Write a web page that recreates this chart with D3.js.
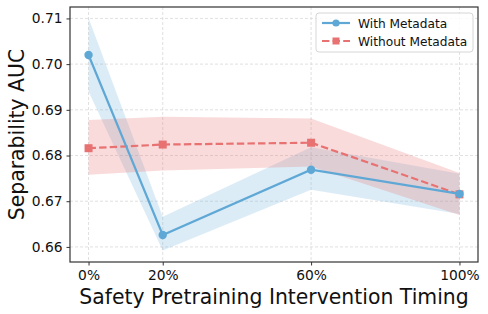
<!DOCTYPE html>
<html>
<head>
<meta charset="utf-8">
<script src="https://cdn.jsdelivr.net/npm/d3@7"></script>
<style>
  body { margin: 0; background: #fff; }
  svg { font-family: "DejaVu Sans", sans-serif; }
</style>
</head>
<body>
<svg id="chart" width="488" height="314"></svg>
<script>
// timing of the intervention (% of pretraining)
var timings = [0, 20, 60, 100];
var tickLabels = ["0%", "20%", "60%", "100%"];
var yTicks = [0.66, 0.67, 0.68, 0.69, 0.70, 0.71];

var withMeta = [0.7020, 0.6626, 0.6769, 0.6716];
var withLow = [0.6940, 0.6592, 0.6725, 0.6672];
var withHigh = [0.7101, 0.6666, 0.6818, 0.6760];

var withoutMeta = [0.6816, 0.6824, 0.6828, 0.6715];
var withoutLow = [0.6758, 0.6767, 0.6776, 0.6670];
var withoutHigh = [0.6878, 0.6885, 0.6881, 0.6762];

var series = [
  { name: "With Metadata", color: "#5fa8d6", mean: withMeta, low: withLow, high: withHigh, dash: null, marker: "circle", bandOpacity: 0.22 },
  { name: "Without Metadata", color: "#e87272", mean: withoutMeta, low: withoutLow, high: withoutHigh, dash: "7.4,3.2", marker: "square", bandOpacity: 0.26 }
];

var svg = d3.select("#chart");
var margin = { left: 70, top: 7, right: 10, bottom: 52 };
var width = 488, height = 314;

var x = d3.scaleLinear().domain([-5, 105]).range([margin.left, width - margin.right]);
var y = d3.scaleLinear().domain([0.6567, 0.7125]).range([height - margin.bottom, margin.top]);

// grid
var grid = svg.append("g");
grid.selectAll(".gx").data(timings).enter().append("line")
  .attr("x1", d => x(d)).attr("x2", d => x(d))
  .attr("y1", margin.top).attr("y2", height - margin.bottom)
  .attr("stroke", "#d8d8d8").attr("stroke-dasharray", "3,2").attr("stroke-width", 0.8);
grid.selectAll(".gy").data(yTicks).enter().append("line")
  .attr("y1", d => y(d)).attr("y2", d => y(d))
  .attr("x1", margin.left).attr("x2", width - margin.right)
  .attr("stroke", "#d8d8d8").attr("stroke-dasharray", "3,2").attr("stroke-width", 0.8);

// bands
var area = d3.area()
  .x((d, i) => x(timings[i]))
  .y0(d => y(d[0]))
  .y1(d => y(d[1]));

series.forEach(s => {
  svg.append("path")
    .datum(s.low.map((v, i) => [v, s.high[i]]))
    .attr("d", area)
    .attr("fill", s.color)
    .attr("fill-opacity", s.bandOpacity);
});

var line = d3.line().x((d, i) => x(timings[i])).y(d => y(d));

// draw red first so the blue line sits on top
series.slice().reverse().forEach(s => {
  var g = svg.append("g");
  g.append("path")
    .datum(s.mean)
    .attr("d", line)
    .attr("fill", "none")
    .attr("stroke", s.color)
    .attr("stroke-width", 2.2)
    .attr("stroke-dasharray", s.dash);
  if (s.marker === "circle") {
    g.selectAll("circle").data(s.mean).enter().append("circle")
      .attr("cx", (d, i) => x(timings[i])).attr("cy", d => y(d))
      .attr("r", 4.2).attr("fill", s.color);
  } else {
    g.selectAll("rect").data(s.mean).enter().append("rect")
      .attr("x", (d, i) => x(timings[i]) - 4).attr("y", d => y(d) - 4)
      .attr("width", 8).attr("height", 8).attr("fill", s.color);
  }
});

// axes
var xAxis = d3.axisBottom(x).tickValues(timings).tickFormat((d, i) => tickLabels[i]).tickSize(3.5).tickPadding(5);
var yAxis = d3.axisLeft(y).tickValues(yTicks).tickFormat(d3.format(".2f")).tickSize(3.5).tickPadding(4);

var gx = svg.append("g").attr("transform", `translate(0,${height - margin.bottom})`).call(xAxis);
var gy = svg.append("g").attr("transform", `translate(${margin.left},0)`).call(yAxis);
[gx, gy].forEach(g => {
  g.select(".domain").remove();
  g.selectAll("line").attr("stroke", "#333");
  g.selectAll("text").attr("font-size", "13.8px").attr("fill", "#111").attr("font-family", "DejaVu Sans");
});

// frame
svg.append("rect")
  .attr("x", margin.left).attr("y", margin.top)
  .attr("width", width - margin.left - margin.right)
  .attr("height", height - margin.top - margin.bottom)
  .attr("fill", "none").attr("stroke", "#333").attr("stroke-width", 1.2);

// axis labels
svg.append("text")
  .attr("x", (margin.left + width - margin.right) / 2).attr("y", 304)
  .attr("text-anchor", "middle").attr("font-size", "20.4px").attr("fill", "#111")
  .text("Safety Pretraining Intervention Timing");
svg.append("text")
  .attr("transform", `translate(24,${(margin.top + height - margin.bottom) / 2}) rotate(-90)`)
  .attr("text-anchor", "middle").attr("font-size", "20.4px").attr("fill", "#111")
  .text("Separability AUC");

// legend
var legend = svg.append("g").attr("transform", "translate(316,13)");
legend.append("rect")
  .attr("width", 157).attr("height", 39).attr("rx", 3)
  .attr("fill", "#fff").attr("fill-opacity", 0.85)
  .attr("stroke", "#d6d6d6").attr("stroke-width", 1);

var items = legend.selectAll(".item").data(series).enter().append("g")
  .attr("transform", (d, i) => `translate(0,${10 + i * 18})`);
items.append("line")
  .attr("x1", 6).attr("x2", 34)
  .attr("stroke", d => d.color).attr("stroke-width", 2.2)
  .attr("stroke-dasharray", d => d.dash);
items.each(function(d) {
  var it = d3.select(this);
  if (d.marker === "circle") {
    it.append("circle").attr("cx", 20).attr("r", 3.6).attr("fill", d.color);
  } else {
    it.append("rect").attr("x", 16.5).attr("y", -3.5).attr("width", 7).attr("height", 7).attr("fill", d.color);
  }
});
items.append("text")
  .attr("x", 42).attr("y", 4.5)
  .attr("font-size", "12.2px").attr("fill", "#111")
  .text(d => d.name);
</script>
</body>
</html>
